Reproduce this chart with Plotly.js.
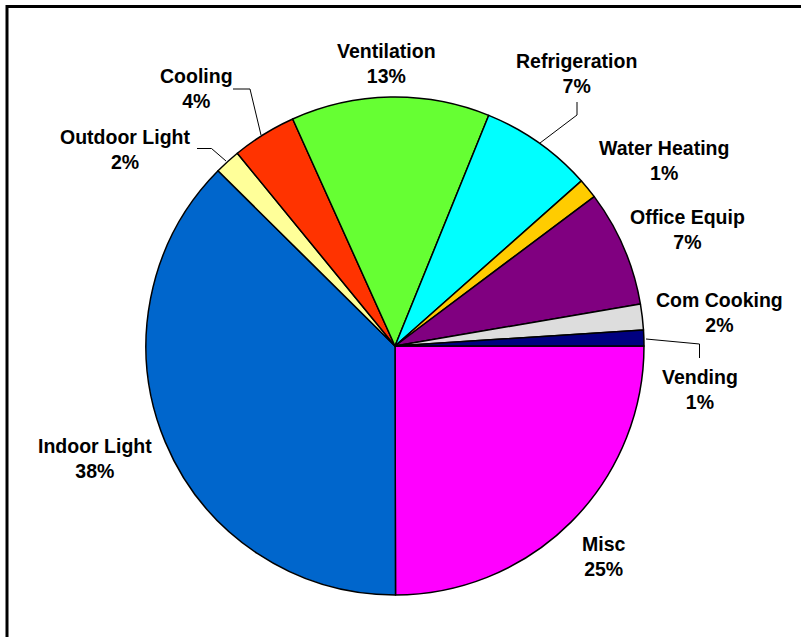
<!DOCTYPE html>
<html>
<head>
<meta charset="utf-8">
<script src="https://cdn.plot.ly/plotly-3.0.1.min.js"></script>
<style>html,body{margin:0;padding:0;background:#fff;}#chart{width:801px;height:637px;}</style>
</head>
<body>
<div id="chart"></div>
<script>
// ---- data ----
var categories = ["Misc", "Indoor Light", "Outdoor Light", "Cooling", "Ventilation",
                  "Refrigeration", "Water Heating", "Office Equip", "Com Cooking", "Vending"];
var shares = [25.0, 37.5, 1.67, 4.18, 12.9, 7.33, 1.30, 7.55, 1.67, 1.03];
var pctLabels = ["25%", "38%", "2%", "4%", "13%", "7%", "1%", "7%", "2%", "1%"];
var sliceColors = ["#FF00FF", "#0066CC", "#FFFF99", "#FF3300", "#66FF33",
                   "#00FFFF", "#FFCC00", "#800080", "#DDDDDD", "#000080"];

// ---- layout helpers (pixel positions of the label blocks) ----
var W = 801, H = 637;
function px(x) { return x / W; }
function py(y) { return 1 - y / H; }
var labelPos = [
  [604, 556], [95, 458], [125, 149], [196, 88], [386, 64],
  [576, 74], [664, 160], [687, 230], [719, 312], [700, 389]
];
var leaders = [
  [[197, 148.5], [211.5, 148.5], [226, 161]],
  [[233, 89], [250, 89], [261, 135]],
  [[577, 102], [577, 115], [540, 143]],
  [[646, 339], [699.5, 344], [699.5, 358]]
];

var annotations = categories.map(function (c, i) {
  return {
    text: "<b>" + c + "<br>" + pctLabels[i] + "</b>",
    x: px(labelPos[i][0]), y: py(labelPos[i][1]),
    xref: "paper", yref: "paper", xanchor: "center", yanchor: "middle",
    showarrow: false, align: "center",
    font: {family: "Liberation Sans, Arial, sans-serif", size: 19.5, color: "#000"}
  };
});

var shapes = [];
leaders.forEach(function (pts) {
  var d = "M" + pts.map(function (p) { return px(p[0]) + "," + py(p[1]); }).join(" L");
  shapes.push({type: "path", xref: "paper", yref: "paper", path: d,
               line: {color: "#000", width: 1}});
});
shapes.push({type: "rect", xref: "paper", yref: "paper",
             x0: px(7), y0: py(6.5), x1: 1.05, y1: -0.05,
             line: {color: "#000", width: 3}, fillcolor: "rgba(0,0,0,0)"});

var cx = 395, cy = 346, r = 249;
var trace = {
  type: "pie",
  labels: categories,
  values: shares,
  sort: false,
  direction: "clockwise",
  rotation: 90,
  textinfo: "none",
  hoverinfo: "label+percent",
  marker: {colors: sliceColors, line: {color: "#000", width: 1.5}},
  domain: {x: [px(cx - r), px(cx + r)], y: [py(cy + r), py(cy - r)]},
  showlegend: false
};

var layout = {
  width: W, height: H,
  margin: {l: 0, r: 0, t: 0, b: 0},
  paper_bgcolor: "#fff",
  showlegend: false,
  annotations: annotations,
  shapes: shapes
};

Plotly.newPlot("chart", [trace], layout, {displayModeBar: false, staticPlot: true});
</script>
</body>
</html>
